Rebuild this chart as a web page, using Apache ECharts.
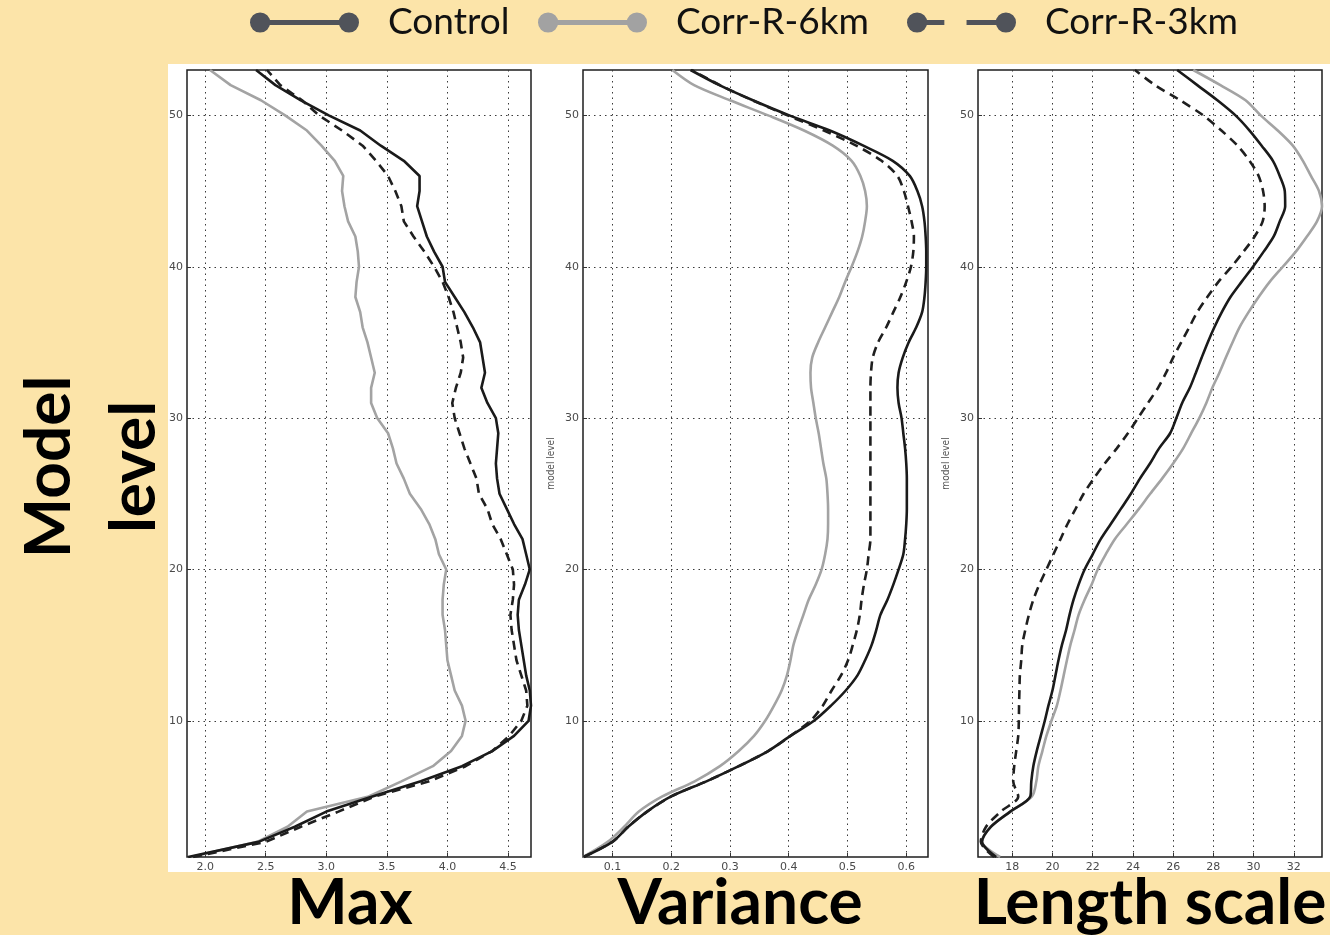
<!DOCTYPE html>
<html><head><meta charset="utf-8">
<script src="https://cdn.jsdelivr.net/npm/echarts@6/dist/echarts.min.js"></script>
<style>html,body{margin:0;padding:0;background:#FCE4A9;}#c{width:1330px;height:935px;}</style>
</head><body><div id="c"></div>
<script>
// ---- data ----
const levels = [1,2,3,4,5,6,7,8,9,10,11,12,13,14,15,16,17,18,19,20,21,22,23,24,25,26,27,28,29,30,31,32,33,34,35,36,37,38,39,40,41,42,43,44,45,46,47,48,49,50,51,52,53];
const seriesNames = ['Control', 'Corr-R-6km', 'Corr-R-3km'];
const panelTitles = ['Max', 'Variance', 'Length scale'];

const maxControl = [1.86,2.44,2.74,3.00,3.38,3.78,4.12,4.37,4.55,4.67,4.69,4.68,4.65,4.63,4.61,4.59,4.58,4.59,4.64,4.68,4.65,4.62,4.55,4.49,4.43,4.41,4.40,4.41,4.42,4.40,4.33,4.28,4.31,4.29,4.27,4.21,4.14,4.06,3.98,3.96,3.89,3.83,3.79,3.75,3.77,3.77,3.64,3.45,3.28,3.02,2.79,2.58,2.42];
const maxCorr6  = [1.88,2.43,2.68,2.84,3.35,3.62,3.88,4.03,4.12,4.15,4.12,4.06,4.03,4.00,3.99,3.98,3.96,3.96,3.97,3.99,3.93,3.90,3.85,3.78,3.69,3.64,3.58,3.55,3.51,3.42,3.37,3.37,3.40,3.37,3.34,3.30,3.28,3.24,3.25,3.27,3.26,3.24,3.18,3.15,3.13,3.14,3.07,2.96,2.84,2.66,2.46,2.21,2.04];
const maxCorr3  = [1.90,2.50,2.79,3.10,3.40,3.85,4.15,4.37,4.51,4.61,4.66,4.65,4.61,4.57,4.55,4.53,4.52,4.54,4.55,4.54,4.49,4.44,4.37,4.33,4.26,4.24,4.19,4.14,4.10,4.06,4.04,4.07,4.11,4.13,4.11,4.08,4.05,4.01,3.96,3.89,3.81,3.72,3.64,3.62,3.57,3.51,3.41,3.30,3.13,2.94,2.80,2.62,2.51];

const varControl = [0.051,0.100,0.127,0.159,0.200,0.260,0.315,0.365,0.403,0.443,0.472,0.497,0.517,0.530,0.541,0.549,0.556,0.568,0.578,0.587,0.595,0.598,0.600,0.601,0.601,0.601,0.600,0.598,0.595,0.592,0.587,0.585,0.587,0.594,0.604,0.617,0.627,0.631,0.633,0.634,0.634,0.633,0.631,0.627,0.619,0.606,0.577,0.527,0.470,0.401,0.339,0.282,0.233];
const varCorr6  = [0.050,0.092,0.120,0.145,0.185,0.240,0.283,0.315,0.341,0.360,0.375,0.388,0.397,0.403,0.408,0.416,0.425,0.434,0.446,0.456,0.462,0.466,0.467,0.467,0.466,0.464,0.459,0.455,0.451,0.446,0.442,0.438,0.437,0.440,0.450,0.462,0.474,0.486,0.496,0.507,0.517,0.525,0.530,0.533,0.530,0.522,0.507,0.475,0.426,0.365,0.300,0.239,0.202];
const varCorr3  = [0.051,0.100,0.127,0.159,0.200,0.260,0.315,0.365,0.403,0.437,0.458,0.473,0.489,0.501,0.509,0.516,0.521,0.524,0.528,0.533,0.536,0.539,0.539,0.539,0.539,0.539,0.539,0.539,0.539,0.539,0.539,0.539,0.540,0.543,0.552,0.566,0.578,0.590,0.600,0.608,0.612,0.613,0.609,0.603,0.596,0.585,0.558,0.515,0.460,0.398,0.338,0.283,0.235];

const lenControl = [17.2,16.5,16.95,17.9,18.9,18.95,19.05,19.22,19.42,19.62,19.8,20.0,20.15,20.3,20.47,20.68,20.85,21.05,21.3,21.6,22.0,22.4,22.9,23.4,23.9,24.35,24.85,25.3,25.85,26.16,26.45,26.83,27.13,27.42,27.72,28.05,28.42,28.85,29.4,29.97,30.5,31.0,31.3,31.57,31.55,31.3,30.96,30.4,29.8,29.1,28.2,27.2,26.2];
const lenCorr6  = [17.4,16.5,16.93,17.92,18.98,19.2,19.3,19.5,19.7,19.95,20.22,20.4,20.56,20.72,20.89,21.1,21.3,21.6,21.95,22.25,22.65,23.1,23.7,24.3,24.86,25.45,26.0,26.5,26.9,27.3,27.65,27.95,28.3,28.62,28.95,29.3,29.75,30.25,30.8,31.45,32.1,32.65,33.15,33.4,33.25,32.85,32.45,31.95,31.2,30.35,29.6,28.35,27.0];
const lenCorr3  = [17.1,16.44,16.7,17.43,18.3,18.05,18.1,18.2,18.3,18.33,18.34,18.36,18.38,18.45,18.5,18.65,18.83,19.05,19.35,19.7,20.05,20.4,20.75,21.15,21.55,22.05,22.6,23.2,23.75,24.25,24.75,25.25,25.65,26.0,26.4,26.8,27.2,27.7,28.25,28.9,29.5,30.05,30.45,30.55,30.47,30.25,29.8,29.2,28.4,27.5,26.35,25.1,24.1];

const maxTicks = [2.0,2.5,3.0,3.5,4.0,4.5];
const varTicks = [0.1,0.2,0.3,0.4,0.5,0.6];
const lenTicks = [18,20,22,24,26,28,30,32];
const levelTicks = [10,20,30,40,50];

// ---- layout / style ----
const panels = [
  {left:187, width:344, min:1.85, max:4.69, ticks:maxTicks, dec:1, data:[maxControl,maxCorr6,maxCorr3], smooth:false, yname:''},
  {left:583, width:345, min:0.05, max:0.637, ticks:varTicks, dec:1, data:[varControl,varCorr6,varCorr3], smooth:0.3, yname:'model level'},
  {left:978, width:344, min:16.3, max:33.4, ticks:lenTicks, dec:0, data:[lenControl,lenCorr6,lenCorr3], smooth:0.3, yname:'model level'}
];
const lineColors = ['#1a1a1a', '#a3a3a3', '#1f1f1f'];
const lineTypes = ['solid', 'solid', [9, 6]];
const tickFont = {fontFamily:'DejaVu Sans', fontSize:11, color:'#4a4a4a'};
const gridDot = {color:'#3a3a3a', width:1, type:[1.5, 4]};

const grids = [], xAxes = [], yAxes = [], series = [];
panels.forEach((p, i) => {
  grids.push({left:p.left, top:70, width:p.width, height:787, show:true, backgroundColor:'#fff', borderColor:'#1e1e1e', borderWidth:1.5});
  xAxes.push({
    type:'value', gridIndex:i, min:p.min, max:p.max,
    axisLine:{show:false},
    axisTick:{show:true, inside:true, length:4, customValues:p.ticks, lineStyle:{color:'#333'}},
    axisLabel:{customValues:p.ticks, margin:5, ...tickFont, formatter:v => v.toFixed(p.dec)},
    splitLine:{show:true, lineStyle:gridDot}
  });
  yAxes.push({
    type:'value', gridIndex:i, min:1, max:53,
    name:p.yname, nameLocation:'middle', nameGap:27, nameRotate:90,
    nameTextStyle:{fontFamily:'DejaVu Sans Condensed', fontSize:10, color:'#555'},
    axisLine:{show:false},
    axisTick:{show:true, inside:true, length:4, customValues:levelTicks, lineStyle:{color:'#333'}},
    axisLabel:{customValues:levelTicks, margin:4, ...tickFont},
    splitLine:{show:true, lineStyle:gridDot}
  });
  p.data.forEach((vals, k) => {
    series.push({
      type:'line', name:seriesNames[k], xAxisIndex:i, yAxisIndex:i,
      data: levels.map((lv, j) => [vals[j], lv]),
      showSymbol:false, symbol:'none', smooth:p.smooth, clip:true,
      z: k === 1 ? 2 : 3,
      lineStyle:{color:lineColors[k], width:2.6, type:lineTypes[k]},
      itemStyle:{color:lineColors[k]}
    });
  });
});

const solidIcon = 'path://M1,11A10,10,0,1,1,21,11A10,10,0,1,1,1,11ZM20,8.5L90,8.5L90,13.5L20,13.5ZM89,11A10,10,0,1,1,109,11A10,10,0,1,1,89,11Z';
const dashIcon  = 'path://M1,11A10,10,0,1,1,21,11A10,10,0,1,1,1,11ZM20,8.5L38,8.5L38,13.5L20,13.5ZM60,8.5L90,8.5L90,13.5L60,13.5ZM89,11A10,10,0,1,1,109,11A10,10,0,1,1,89,11Z';
const legendText = {fontFamily:'Lato', fontSize:37, color:'#111', padding:[0,0,0,24]};
const legends = [
  {data:[seriesNames[0]], left:250, top:4, icon:solidIcon, itemStyle:{color:'#50535a'}},
  {data:[seriesNames[1]], left:538, top:4, icon:solidIcon, itemStyle:{color:'#a2a2a2'}},
  {data:[seriesNames[2]], left:907, top:4, icon:dashIcon, itemStyle:{color:'#50535a'}}
].map(l => Object.assign({itemWidth:109, itemHeight:22, textStyle:legendText, selectedMode:false, padding:0}, l));

const bigFont = 'bold 64px Lato';
const graphics = [
  {type:'rect', z:-10, shape:{x:168, y:64, width:1162, height:808}, style:{fill:'#ffffff'}},
  {type:'text', x:350, y:903, style:{text:panelTitles[0], font:bigFont, fill:'#000', align:'center', verticalAlign:'middle', textAlign:'center', textVerticalAlign:'middle'}},
  {type:'text', x:740, y:903, style:{text:panelTitles[1], font:bigFont, fill:'#000', align:'center', verticalAlign:'middle', textAlign:'center', textVerticalAlign:'middle'}},
  {type:'text', x:1150, y:903, style:{text:panelTitles[2], font:bigFont, fill:'#000', align:'center', verticalAlign:'middle', textAlign:'center', textVerticalAlign:'middle'}},
  {type:'text', x:92, y:467, rotation:Math.PI/2, style:{text:'Model\nlevel', font:bigFont, lineHeight:85, fill:'#000', align:'center', verticalAlign:'middle', textAlign:'center', textVerticalAlign:'middle'}}
];

const chart = echarts.init(document.getElementById('c'));
chart.setOption({
  backgroundColor:'#FCE4A9',
  animation:false,
  legend:legends,
  grid:grids, xAxis:xAxes, yAxis:yAxes, series:series,
  graphic:{elements:graphics}
});
</script></body></html>
